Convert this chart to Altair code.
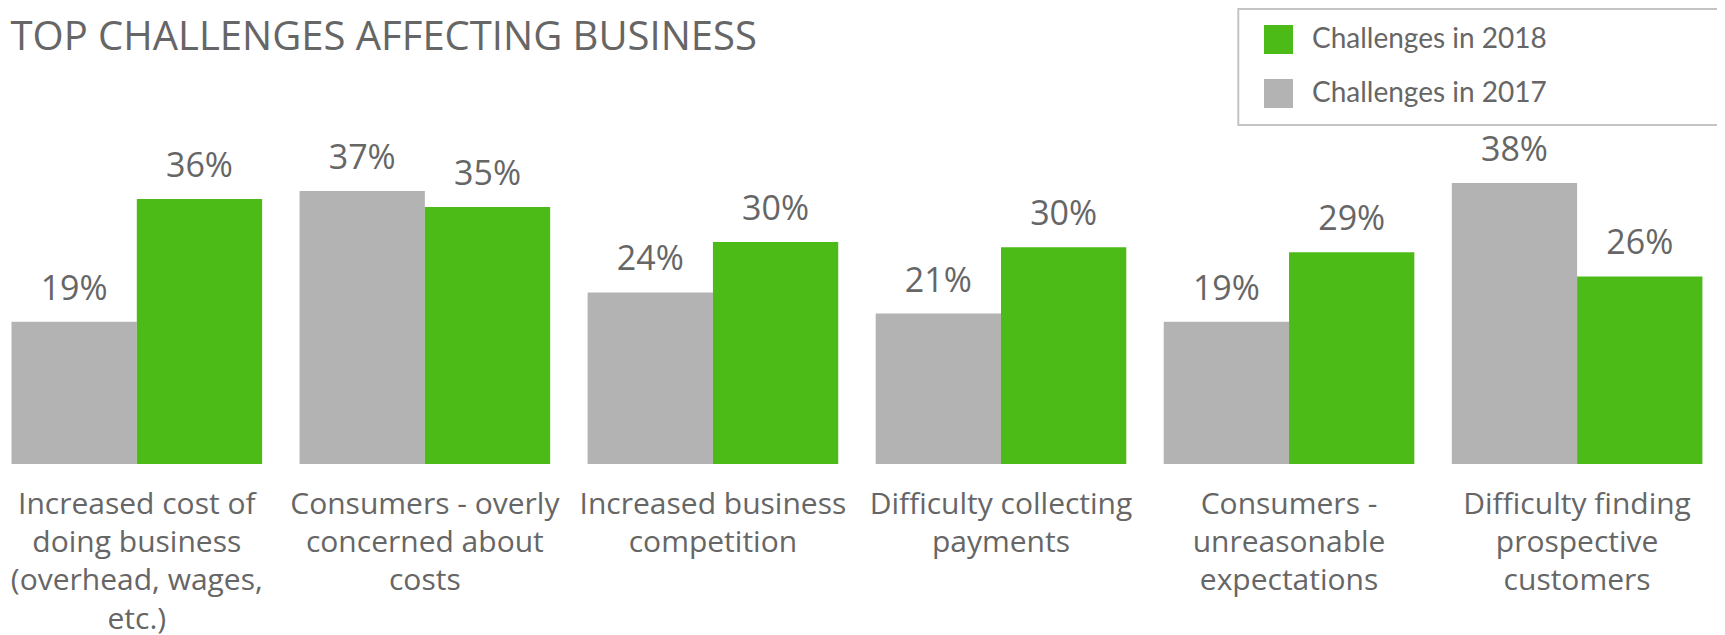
import altair as alt
import pandas as pd

# ---- data ----
title_text = "TOP CHALLENGES AFFECTING BUSINESS"
categories = [
    "Increased cost of\ndoing business\n(overhead, wages,\netc.)",
    "Consumers - overly\nconcerned about\ncosts",
    "Increased business\ncompetition",
    "Difficulty collecting\npayments",
    "Consumers -\nunreasonable\nexpectations",
    "Difficulty finding\nprospective\ncustomers",
]
series_names = ["Challenges in 2017", "Challenges in 2018"]
pct_2017 = [19.5, 37.4, 23.5, 20.6, 19.5, 38.5]
pct_2018 = [36.3, 35.2, 30.4, 29.7, 29.0, 25.7]
labels_2017 = ["19%", "37%", "24%", "21%", "19%", "38%"]
labels_2018 = ["36%", "35%", "30%", "30%", "29%", "26%"]

GREEN = "#4cbb17"
GRAY = "#b3b3b3"
TEXT = "#666666"
FONT = "Open Sans"
LEGEND_FONT = "Lato"

rows = []
for i, c in enumerate(categories):
    rows.append({"category": c, "series": series_names[0], "value": pct_2017[i], "label": labels_2017[i]})
    rows.append({"category": c, "series": series_names[1], "value": pct_2018[i], "label": labels_2018[i]})
df = pd.DataFrame(rows)

x_enc = alt.X(
    "category:N",
    sort=categories,
    scale=alt.Scale(paddingInner=0.13, paddingOuter=0),
    axis=alt.Axis(
        title=None, domain=False, ticks=False, labelAngle=0,
        labelExpr="split(datum.label, '\\n')",
        labelFont=FONT, labelFontSize=30, labelColor=TEXT,
        labelLineHeight=38.3, labelBaseline="alphabetic", labelPadding=49.3,
        labelLimit=600, labelOverlap=False, labelBound=False,
    ),
)
xoff_enc = alt.XOffset("series:N", sort=series_names, scale=alt.Scale(paddingInner=0, paddingOuter=0))
y_enc = alt.Y("value:Q", scale=alt.Scale(domain=[0, 40], nice=False), axis=None)

base = alt.Chart(df)

bars = base.mark_bar().encode(
    x=x_enc,
    xOffset=xoff_enc,
    y=y_enc,
    color=alt.Color(
        "series:N",
        scale=alt.Scale(domain=["Challenges in 2018", "Challenges in 2017"], range=[GREEN, GRAY]),
        legend=alt.Legend(
            title=None, orient="none", legendX=1252.5, legendY=-147,
            symbolType="square", symbolSize=841, symbolStrokeWidth=0, symbolOpacity=1,
            labelFont=LEGEND_FONT, labelFontSize=28, labelColor=TEXT, labelOffset=19,
            rowPadding=25, padding=0, labelLimit=600,
        ),
    ),
)

texts = base.mark_text(
    font=FONT, fontSize=34, color=TEXT, baseline="alphabetic", dy=-22
).encode(
    x=x_enc,
    xOffset=xoff_enc,
    y=y_enc,
    text="label:N",
)

one = pd.DataFrame({"t": [title_text]})

title_mark = alt.Chart(one).mark_text(
    font=FONT, fontSize=40, color=TEXT, align="left", baseline="alphabetic"
).encode(x=alt.value(-1), y=alt.value(-122), text="t:N")

legend_box = alt.Chart(one).mark_rect(
    fill=None, stroke="#c4c4c4", strokeWidth=2
).encode(
    x=alt.value(1226.8), x2=alt.value(1800), y=alt.value(-163), y2=alt.value(-47)
)

chart = alt.layer(bars, texts, title_mark, legend_box).properties(
    width=1690.9,
    height=292,
    autosize=alt.AutoSizeParams(type="none"),
    padding={"left": 3.5, "top": 164, "right": 14.6, "bottom": 171},
    background="white",
).configure_view(strokeWidth=0)

chart.save("out.html", embed_options={"renderer": "svg", "actions": False})
